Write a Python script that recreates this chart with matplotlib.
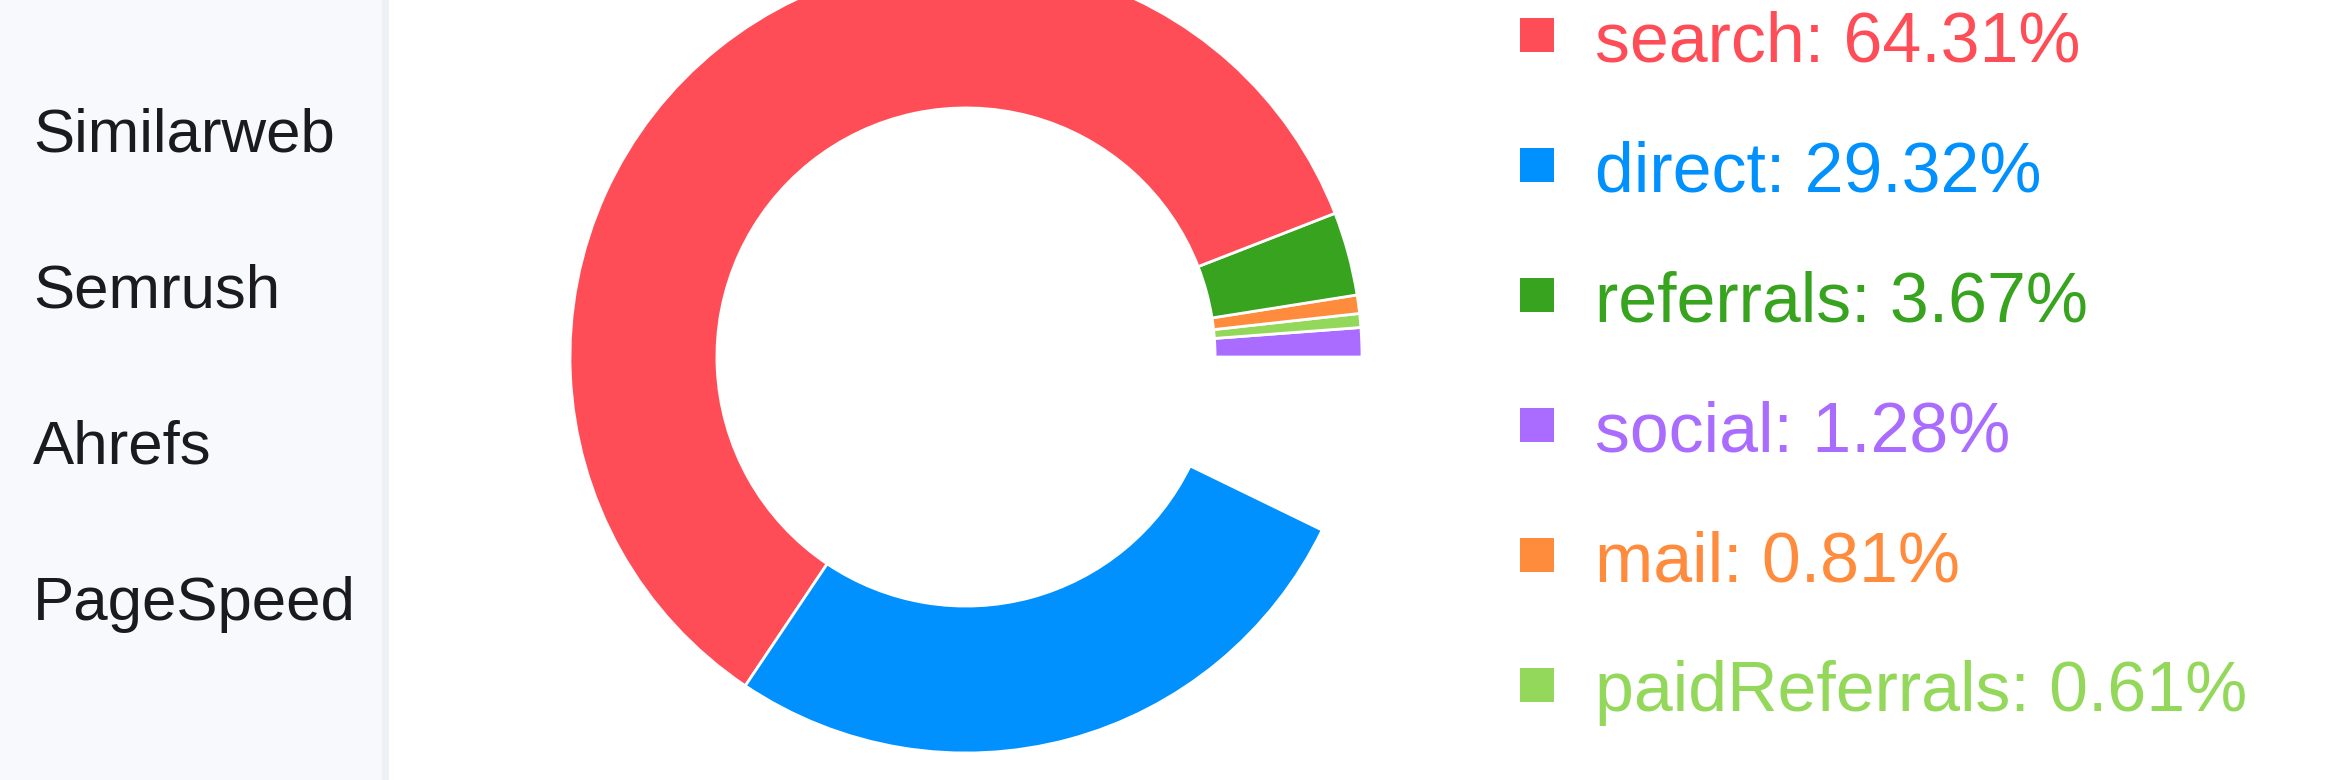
# traffic sources donut, redrawn from a dashboard screenshot
# left: sidebar menu, middle: partly swept donut, right: coloured legend

import matplotlib
matplotlib.use('Agg')
import matplotlib.pyplot as plt
from matplotlib.patches import Rectangle

plt.rcParams['font.family'] = ['Liberation Sans', 'DejaVu Sans']

# traffic sources, in legend order
sources = ['search', 'direct', 'referrals', 'social', 'mail', 'paidReferrals']
shares = [64.31, 29.32, 3.67, 1.28, 0.81, 0.61]
colors = ['#FF4D57', '#0091FF', '#38A31F', '#A96CFF', '#FF8B3D', '#94D85B']

# wedge order going counter-clockwise from 3 o'clock
ring_order = ['social', 'paidReferrals', 'mail', 'referrals', 'search', 'direct']

# menu entries in the sidebar
menu_items = ['Similarweb', 'Semrush', 'Ahrefs', 'PageSpeed']

# the ring only goes about 93% of the way round in the screenshot
sweep = 0.928

W, H = 2334, 780
fig = plt.figure(figsize=(W / 100, H / 100), dpi=100)
fig.patch.set_facecolor('white')

# overlay axes in pixel coordinates for the sidebar and legend
ov = fig.add_axes([0, 0, 1, 1])
ov.set_xlim(0, W)
ov.set_ylim(H, 0)
ov.axis('off')

ov.add_patch(Rectangle((0, 0), 382, H, facecolor='#F8F9FC', edgecolor='none'))
ov.add_patch(Rectangle((382, 0), 7, H, facecolor='#EEF0F5', edgecolor='none'))
for i, name in enumerate(menu_items):
    ov.text(33, 152 + 156 * i, name, fontsize=44.5, color='#1A1A1F',
            va='baseline', ha='left')

# legend: square marker + "name: value%"
row_y = [35 + 130 * i for i in range(len(sources))]
ov.scatter([1537] * len(sources), row_y, marker='s', s=600, c=colors,
           linewidths=0)
for y, name, val, col in zip(row_y, sources, shares, colors):
    ov.text(1595, y + 26, f'{name}: {val:.2f}%', fontsize=50.3, color=col,
            va='baseline', ha='left')

# donut
cx, cy, r = 966, 357, 396
ax = fig.add_axes([(cx - r) / W, (H - cy - r) / H, 2 * r / W, 2 * r / H])
vals = [shares[sources.index(s)] / 100 * sweep for s in ring_order]
cols = [colors[sources.index(s)] for s in ring_order]
ax.pie(vals, colors=cols, normalize=False, startangle=0, counterclock=True,
       radius=1, wedgeprops=dict(width=0.371, edgecolor='white', linewidth=2))
ax.set_xlim(-1, 1)
ax.set_ylim(-1, 1)

fig.savefig('out.png', dpi=100)
